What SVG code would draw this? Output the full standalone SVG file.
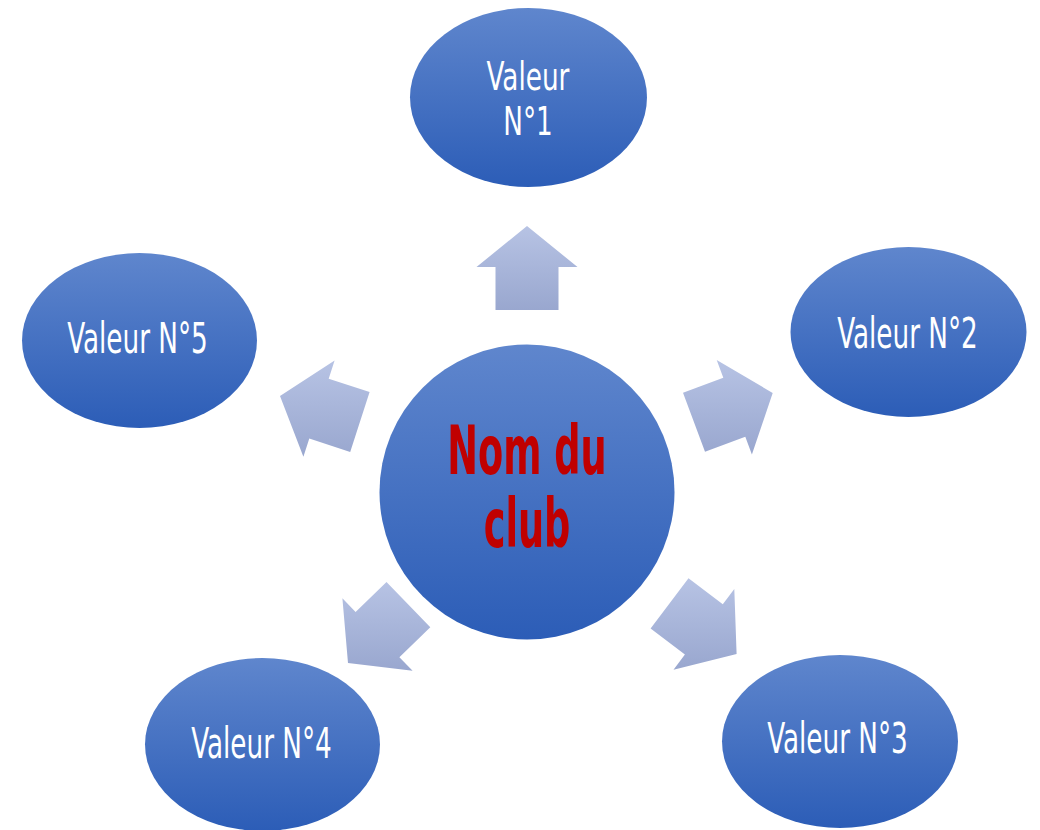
<svg xmlns="http://www.w3.org/2000/svg" width="1040" height="830" viewBox="0 0 1040 830">
<defs>
<linearGradient id="gBlue" x1="0" y1="0" x2="0" y2="1">
<stop offset="0" stop-color="#5f86cd"/>
<stop offset="1" stop-color="#2c5db7"/>
</linearGradient>
<linearGradient id="gArrow" x1="0" y1="0" x2="0" y2="1">
<stop offset="0" stop-color="#b7c3e4"/>
<stop offset="1" stop-color="#99a7cf"/>
</linearGradient>
<style>
.node{fill:url(#gBlue);}
.arrow{fill:url(#gArrow);}
.lbl{font-family:"DejaVu Sans Condensed","Liberation Sans Narrow","Liberation Sans",sans-serif;font-size:43px;fill:#ffffff;text-anchor:middle;}
.lbl2{font-family:"DejaVu Sans Condensed","Liberation Sans Narrow","Liberation Sans",sans-serif;font-size:39px;fill:#ffffff;text-anchor:middle;}
.title{font-family:"DejaVu Sans Condensed","Liberation Sans Narrow","Liberation Sans",sans-serif;font-size:68px;font-weight:bold;fill:#c00000;text-anchor:middle;}
</style>
</defs>
<rect width="1040" height="830" fill="#ffffff"/>
<g id="connectors">
<polygon class="arrow" points="527,226 577.5,267 558.5,267 558.5,310 495.5,310 495.5,267 476.5,267"/>
<polygon class="arrow" points="772.7,393 751.9,454.6 745.3,436.8 705.0,451.8 683.0,392.8 723.3,377.8 716.7,360.0"/>
<polygon class="arrow" points="736.6,654 673.5,669.7 684.9,654.5 650.6,628.6 688.5,578.3 722.8,604.2 734.3,589.0"/>
<polygon class="arrow" points="348,663 342.4,598.2 355.6,611.9 386.5,582 430.3,627.3 399.4,657.2 412.6,670.8"/>
<polygon class="arrow" points="280,396 334.6,360.6 328.7,378.7 369.6,392.0 350.2,451.9 309.3,438.6 303.4,456.7"/>
</g>
<g id="center">
<circle class="node" cx="527" cy="492" r="147.5"/>
<text class="title" transform="translate(527,474) scale(0.6,1)"><tspan x="0" y="0">Nom du</tspan><tspan x="0" y="73">club</tspan></text>
</g>
<g id="value1">
<ellipse class="node" cx="528.5" cy="97.5" rx="118.5" ry="89.5"/>
<text class="lbl2" transform="translate(528,89.5) scale(0.75,1)"><tspan x="0" y="0">Valeur</tspan><tspan x="0" y="46">N°1</tspan></text>
</g>
<g id="value2">
<ellipse class="node" cx="908.5" cy="332" rx="118" ry="85"/>
<text class="lbl" transform="translate(907.5,348) scale(0.68,1)">Valeur N°2</text>
</g>
<g id="value3">
<ellipse class="node" cx="840" cy="741.5" rx="118" ry="86.5"/>
<text class="lbl" transform="translate(837.5,753) scale(0.68,1)">Valeur N°3</text>
</g>
<g id="value4">
<ellipse class="node" cx="262.5" cy="744.5" rx="117.5" ry="86.5"/>
<text class="lbl" transform="translate(261.5,758) scale(0.68,1)">Valeur N°4</text>
</g>
<g id="value5">
<ellipse class="node" cx="139.5" cy="340.5" rx="117.5" ry="87.5"/>
<text class="lbl" transform="translate(137.5,353) scale(0.68,1)">Valeur N°5</text>
</g>
</svg>
